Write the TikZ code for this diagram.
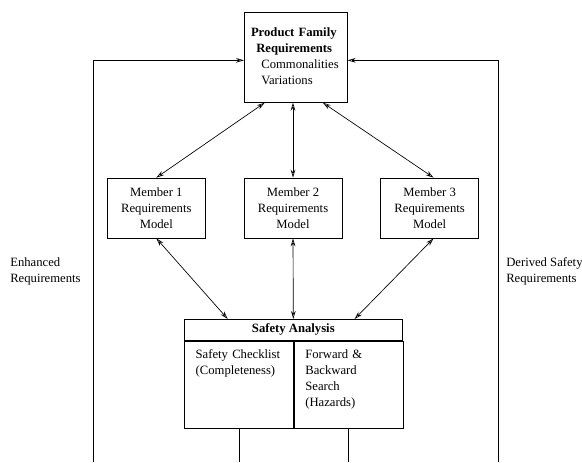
\documentclass[tikz,border=0pt]{standalone}
\usepackage{fontspec}
\setmainfont{Liberation Serif}
\usetikzlibrary{arrows.meta,positioning,calc}

\begin{document}
\begin{tikzpicture}[
    x=0.75pt, y=-0.75pt,
    every node/.style={font=\fontsize{9.5}{12}\selectfont, inner sep=0pt},
    box/.style={draw, line width=0.5pt, minimum width=73.5pt,
                minimum height=45pt, align=center},
    cell/.style={draw, line width=0.5pt, anchor=north west, align=left,
                 inner xsep=8.5pt, text width=64.75pt,
                 text height=12.75pt, text depth=52.5pt},
    txt/.style={anchor=west, align=left},
    arr/.style={{Stealth[open,length=6pt,width=3.5pt]}-{Stealth[open,length=6pt,width=3.5pt]}, line width=0.5pt},
    fb/.style={-{Stealth[open,length=6pt,width=3.5pt]}, line width=0.5pt},
    ln/.style={line width=0.5pt},
    node distance=28.5pt
]
\useasboundingbox (0,0) rectangle (582,462);

% product family
\node[draw, line width=0.5pt, anchor=north west, align=left,
      text width=77.25pt, text height=18pt, text depth=49.5pt] (pf) at (244,12)
     {\hspace*{5pt}\textbf{Product Family}\\
      \hspace*{9pt}\textbf{Requirements}\\
      \hspace*{12.75pt}Commonalities\\
      \hspace*{12.75pt}Variations};

% members
\node[box] (m2) at (293,208) {Member 2\\Requirements\\Model};
\node[box, left=of m2]  (m1) {Member 1\\Requirements\\Model};
\node[box, right=of m2] (m3) {Member 3\\Requirements\\Model};

% safety analysis
\node[draw, line width=0.5pt, minimum width=163.5pt, minimum height=15.75pt,
      anchor=north west] (sat) at (184,319) {\textbf{Safety Analysis}};
\node[cell] (sal) at (sat.south west) {Safety Checklist\\(Completeness)};
\node[cell] (sar) at (sal.north east) {Forward \&\\Backward\\Search\\(Hazards)};

% side labels
\node[txt] (enh) at (10,271.5) {Enhanced\\Requirements};
\node[txt] (der) at (506,271.5) {Derived Safety\\Requirements};

\coordinate (fbl) at (93,462);
\coordinate (fbr) at (498,462);
\coordinate (outl) at (sal.south |- fbl);
\coordinate (outr) at (sar.south |- fbl);

\draw[arr] ($(pf.south west)!0.2!(pf.south east)$) -- (m1.north);
\draw[arr] (m2.north |- pf.south) -- (m2.north);
\draw[arr] ($(pf.south west)!0.76!(pf.south east)$) -- ($(m3.north west)!0.54!(m3.north east)$);

\draw[arr] (m1.south) -- ($(sat.north west)!0.2!(sat.north east)$);
\draw[arr] (m2.south) -- (sat.north);
\draw[arr] ($(m3.south west)!0.54!(m3.south east)$) -- ($(sat.north west)!0.78!(sat.north east)$);

\draw[fb] (fbl) |- ([yshift=-2.25pt]pf.west);
\draw[fb] (fbr) |- ([yshift=-2.25pt]pf.east);
\draw[ln] (sal.south) -- (outl);
\draw[ln] (sar.south) -- (outr);
\end{tikzpicture}
\end{document}
